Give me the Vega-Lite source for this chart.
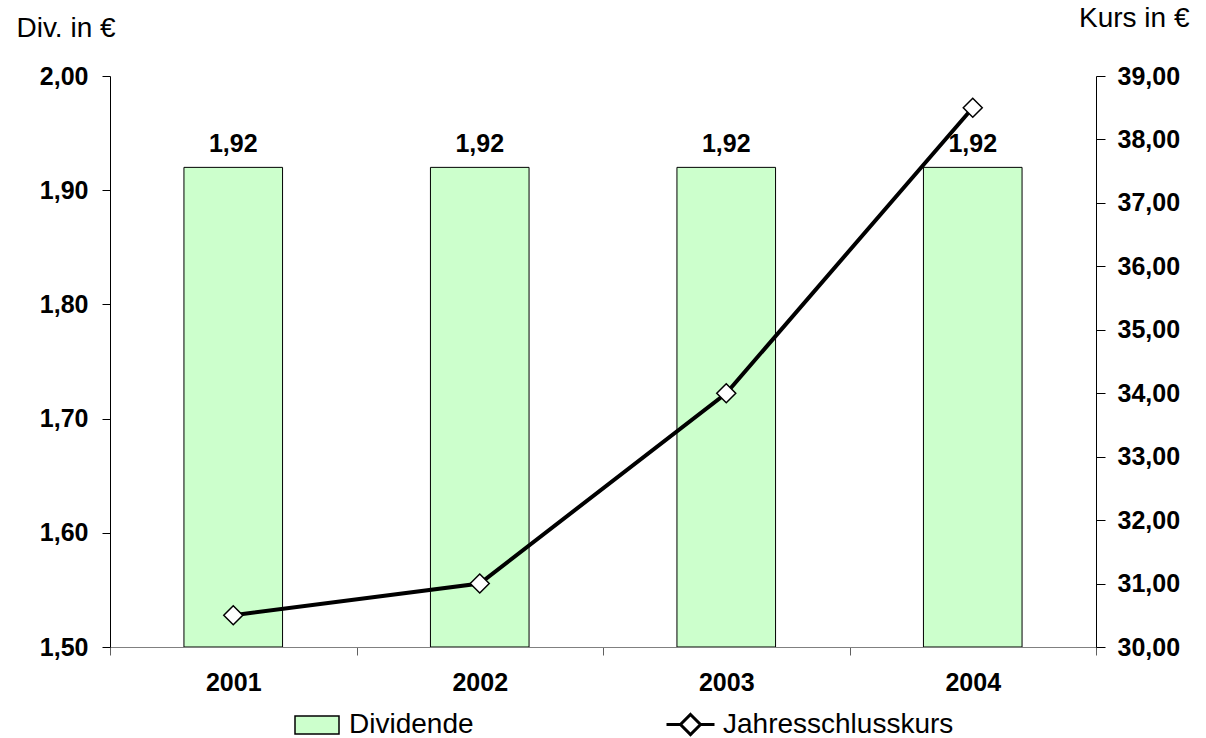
{
  "$schema": "https://vega.github.io/schema/vega-lite/v6.json",
  "width": 986,
  "height": 571,
  "autosize": "none",
  "padding": {"left": 110, "top": 76, "right": 110, "bottom": 91},
  "background": "white",
  "config": {
    "font": "Liberation Sans",
    "view": {"stroke": null},
    "locale": {"number": {"decimal": ",", "thousands": ".", "grouping": [3], "currency": ["", " €"]}}
  },
  "data": {
    "values": [
      {"Jahr": "2001", "Dividende": 1.92, "Kurs": 30.5},
      {"Jahr": "2002", "Dividende": 1.92, "Kurs": 31.0},
      {"Jahr": "2003", "Dividende": 1.92, "Kurs": 34.0},
      {"Jahr": "2004", "Dividende": 1.92, "Kurs": 38.5}
    ]
  },
  "encoding": {
    "x": {
      "field": "Jahr",
      "type": "nominal",
      "scale": {"paddingInner": 0, "paddingOuter": 0},
      "axis": {
        "title": null,
        "orient": "bottom",
        "tickBand": "extent",
        "labelAngle": 0,
        "labelFontSize": 25,
        "labelFontWeight": "bold",
        "labelColor": "black",
        "labelPadding": 15,
        "domainColor": "#808080",
        "tickColor": "#606060",
        "tickSize": 8,
        "zindex": 1
      }
    }
  },
  "layer": [
    {
      "layer": [
        {
          "mark": {"type": "bar", "width": {"band": 0.4}, "stroke": "black", "strokeWidth": 1},
          "encoding": {
            "y": {
              "field": "Dividende",
              "type": "quantitative",
              "scale": {"domain": [1.5, 2.0], "zero": false, "nice": false},
              "axis": {
                "orient": "left",
                "values": [1.5, 1.6, 1.7, 1.8, 1.9, 2.0],
                "format": ".2f",
                "grid": false,
                "domainColor": "black",
                "tickColor": "black",
                "tickSize": 8,
                "labelPadding": 14,
                "labelFontSize": 25,
                "labelFontWeight": "bold",
                "labelColor": "black",
                "labelFlush": false,
                "labelOverlap": false,
                "title": "Div. in €",
                "titleAngle": 0,
                "titleAlign": "left",
                "titleBaseline": "alphabetic",
                "titleX": -94,
                "titleY": -40,
                "titleFontSize": 28,
                "titleFontWeight": "normal",
                "titleColor": "black",
                "zindex": 1
              }
            },
            "y2": {"datum": 1.5},
            "fill": {
              "datum": "Dividende",
              "scale": {"range": ["#CCFFCC"]},
              "legend": {
                "orient": "none",
                "legendX": 184,
                "legendY": 626,
                "title": null,
                "padding": 0,
                "symbolType": "M-1,-0.409H1V0.409H-1Z",
                "symbolSize": 1936,
                "symbolStrokeColor": "black",
                "symbolStrokeWidth": 1.5,
                "labelFontSize": 28,
                "labelColor": "black",
                "labelOffset": 9,
                "labelLimit": 400
              }
            }
          }
        },
        {
          "mark": {"type": "text", "dy": -15, "baseline": "alphabetic", "fontSize": 25, "fontWeight": "bold", "color": "black"},
          "encoding": {
            "y": {"field": "Dividende", "type": "quantitative"},
            "text": {"field": "Dividende", "type": "quantitative", "format": ".2f"}
          }
        }
      ]
    },
    {
      "layer": [
        {
          "mark": {"type": "line", "strokeWidth": 4},
          "encoding": {
            "y": {
              "field": "Kurs",
              "type": "quantitative",
              "scale": {"domain": [30, 39], "zero": false, "nice": false},
              "axis": {
                "orient": "right",
                "values": [30, 31, 32, 33, 34, 35, 36, 37, 38, 39],
                "format": ".2f",
                "grid": false,
                "domainColor": "black",
                "tickColor": "black",
                "tickSize": 9,
                "labelPadding": 12,
                "labelFontSize": 25,
                "labelFontWeight": "bold",
                "labelColor": "black",
                "labelFlush": false,
                "labelOverlap": false,
                "title": "Kurs in €",
                "titleAngle": 0,
                "titleAlign": "right",
                "titleBaseline": "alphabetic",
                "titleX": 93,
                "titleY": -50,
                "titleFontSize": 28,
                "titleFontWeight": "normal",
                "titleColor": "black",
                "zindex": 1
              }
            },
            "stroke": {
              "datum": "Jahresschlusskurs",
              "scale": {"range": ["black"]},
              "legend": {
                "orient": "none",
                "legendX": 555,
                "legendY": 623,
                "title": null,
                "padding": 0,
                "symbolType": "M-1,0H-0.417M0.417,0H1M0,-0.417L0.417,0L0,0.417L-0.417,0Z",
                "symbolSize": 2304,
                "symbolStrokeColor": "black",
                "symbolFillColor": "white",
                "symbolStrokeWidth": 3,
                "labelFontSize": 28,
                "labelColor": "black",
                "labelOffset": 7,
                "labelLimit": 400
              }
            }
          }
        },
        {
          "mark": {"type": "point", "shape": "diamond", "filled": true, "fill": "white", "stroke": "black", "strokeWidth": 1.5, "size": 361, "opacity": 1},
          "encoding": {
            "y": {"field": "Kurs", "type": "quantitative"}
          }
        }
      ]
    }
  ],
  "resolve": {"scale": {"y": "independent", "fill": "independent", "stroke": "independent"}}
}
